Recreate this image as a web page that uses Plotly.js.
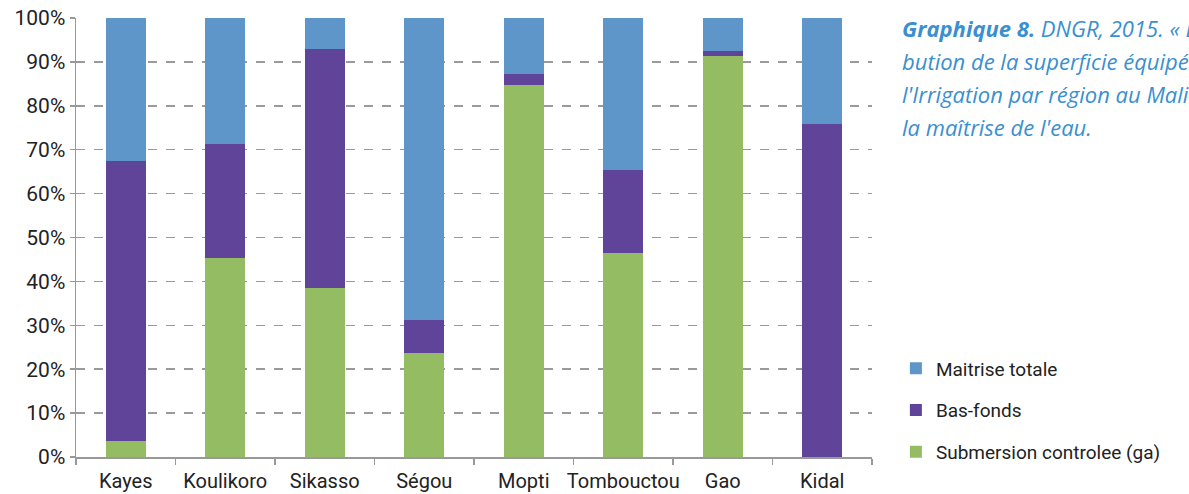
<!DOCTYPE html>
<html>
<head>
<meta charset="utf-8">
<script src="https://cdn.plot.ly/plotly-3.0.1.min.js"></script>
<style>
html,body{margin:0;padding:0;background:#fff;}
#chart{width:1189px;height:494px;}
</style>
</head>
<body>
<div id="chart"></div>
<script>
var regions = ["Kayes", "Koulikoro", "Sikasso", "Ségou", "Mopti", "Tombouctou", "Gao", "Kidal"];
var submersion = [3.7, 45.4, 38.6, 23.8, 84.8, 46.5, 91.4, 0];
var basFonds = [63.8, 25.9, 54.3, 7.3, 2.5, 18.9, 1.1, 75.9];
var maitriseTotale = [32.5, 28.7, 7.1, 68.9, 12.7, 34.6, 7.5, 24.1];
var yTicks = [0, 10, 20, 30, 40, 50, 60, 70, 80, 90, 100];
var titleLines = [
  "<b>Graphique 8.</b> DNGR, 2015. « Distri-",
  "bution de la superficie équipée par",
  "l'Irrigation par région au Mali selon",
  "la maîtrise de l'eau."
];

var font = "Roboto, sans-serif";

var series = [
  {name: "Submersion controlee (ga)", y: submersion, color: "#94BC63", rank: 3},
  {name: "Bas-fonds", y: basFonds, color: "#60449A", rank: 2},
  {name: "Maitrise totale", y: maitriseTotale, color: "#5E96C9", rank: 1}
];
var traces = series.map(function(t, i){
  return {
    type: "bar", x: regions, y: t.y, name: t.name,
    legendgroup: "g" + i, legendrank: t.rank,
    marker: {color: t.color},
    hoverinfo: "x+y+name"
  };
});

var annotations = titleLines.map(function(line, i){
  return {
    xref: "paper", yref: "paper", x: 1.035, y: 1.015 - i * 0.075,
    xanchor: "left", yanchor: "top", align: "left", showarrow: false,
    font: {family: "Open Sans, sans-serif", size: 22, color: "#3A8FD0"},
    text: "<i>" + line + "</i>"
  };
});

var layout = {
  width: 1189, height: 494,
  margin: {l: 76, r: 317, t: 18, b: 37},
  barmode: "stack",
  bargap: 0.6,
  paper_bgcolor: "#fff", plot_bgcolor: "#fff",
  font: {family: font, size: 19, color: "#222"},
  xaxis: {
    type: "category", tickangle: 0,
    showline: true, linecolor: "#999", linewidth: 1.5,
    ticks: "outside", tickson: "boundaries", ticklen: 6, tickcolor: "#999", tickwidth: 1.5,
    ticklabelstandoff: 5,
    tickfont: {family: font, size: 20, color: "#222"},
    showgrid: false
  },
  yaxis: {
    range: [0, 100], tickvals: yTicks, ticktext: yTicks.map(function(v){return v + "%";}),
    showline: true, linecolor: "#999", linewidth: 1.5,
    ticks: "outside", ticklen: 5, tickcolor: "#999", tickwidth: 1.5,
    showgrid: true, gridcolor: "#9a9a9a", gridwidth: 1.5, griddash: "dash",
    zeroline: false,
    tickfont: {family: font, size: 21, color: "#222"}
  },
  showlegend: true,
  legend: {
    x: 1.03, xanchor: "left", y: -0.033, yanchor: "bottom",
    traceorder: "grouped", tracegroupgap: 14,
    font: {family: font, size: 19, color: "#222"},
    bgcolor: "rgba(0,0,0,0)"
  },
  annotations: annotations
};

Plotly.newPlot("chart", traces, layout, {displayModeBar: false, staticPlot: true});
</script>
</body>
</html>
